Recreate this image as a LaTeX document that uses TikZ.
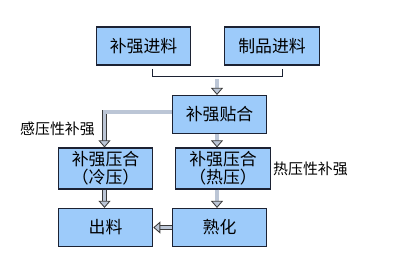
\documentclass[tikz,border=0pt]{standalone}
\usepackage{fontspec}
\newfontfamily\cjk{Noto Sans CJK SC}
\usetikzlibrary{arrows.meta, positioning}
\definecolor{cbox}{HTML}{9DCBFA}
\definecolor{cline}{HTML}{1C2233}
\definecolor{cfill}{HTML}{BCC6D6}
\definecolor{cgrey}{HTML}{3A3A3A}
\tikzset{
  every picture/.style={font=\cjk},
  box/.style={draw=cline, fill=cbox, line width=0.8pt, align=center, inner sep=0pt,
    minimum width=2.36cm, minimum height=0.95cm, font=\cjk\fontsize{12}{13}\selectfont},
  hollow/.style={draw=cgrey, line width=0.6pt, double=cfill, double distance=2.2pt,
    -{Triangle[length=5pt, width=8.5pt, fill=cfill]}},
  note/.style={font=\cjk\fontsize{10.6}{12}\selectfont},
}
\begin{document}
\begin{tikzpicture}[x=0.025cm, y=-0.025cm,
  bracket/.style={draw=cline, line width=0.7pt}]
  \useasboundingbox (0,0) rectangle (420,280);
  % inputs
  \node[box] (feed) at (143.5,46) {补强进料};
  \node[box] (part) at (272,46) {制品进料};
  \coordinate (jl) at (152.5,69);
  \coordinate (jr) at (282,69);
  \coordinate (jm) at (217,79.5);
  \draw[bracket] (jl) -- ++(0,7) -| (jr);
  % laminating
  \node[box] (lam) at (219.5,114.5) {补强贴合};
  \draw[hollow] (jm) -- (jm |- lam.north);
  % two pressing routes
  \node[box, minimum height=1.025cm] (cold) at (105.5,168.5) {补强压合\\（冷压）};
  \node[box, minimum height=1.025cm] (hot) at (223,168.5) {补强压合\\（热压）};
  \draw[hollow] (lam.west |- 0,112) -| (cold.north -| 104.5,0);
  \draw[hollow] (lam.south -| 217,0) -- (hot.north -| 217,0);
  \node[note] (cold label) at (57.5,128.5) {感压性补强};
  \node[note] (hot label) at (310.5,169) {热压性补强};
  % output
  \node[box] (out) at (105.5,227.5) {出料};
  \node[box] (cure) at (219.5,227.5) {熟化};
  \draw[hollow] (cold.south -| 104.5,0) -- (out.north -| 104.5,0);
  \draw[hollow] (hot.south -| 217,0) -- (cure.north -| 217,0);
  \draw[hollow] (cure.west) -- (out.east);
\end{tikzpicture}
\end{document}
